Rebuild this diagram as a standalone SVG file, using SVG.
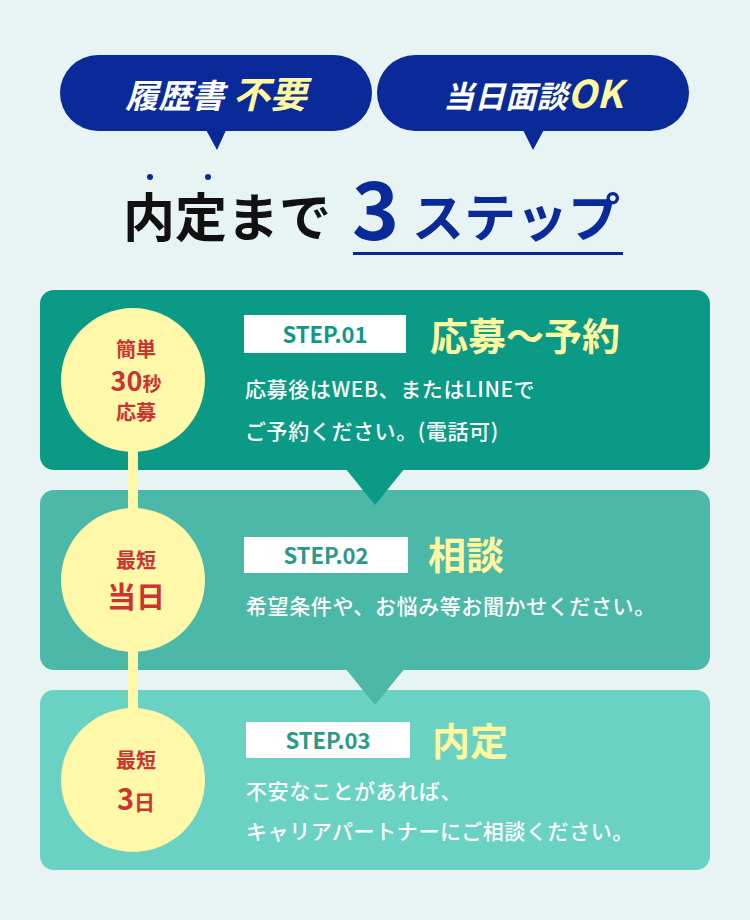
<svg xmlns="http://www.w3.org/2000/svg" width="750" height="920" viewBox="0 0 750 920">
<style>
text{font-family:"Noto Sans CJK JP","Noto Sans",sans-serif;font-weight:700}
.pill{fill:#0a2a9a}
.w{fill:#fff}
.y{fill:#fff8a0}
.circ{fill:#fff8a8}
.red{fill:#cc3333;text-anchor:middle}
.tag{fill:#fff}
.body{fill:#fff;font-weight:500;font-size:21px;letter-spacing:0.6px}
.ttl{fill:#fff8a0;font-size:38px}
</style>
<rect width="750" height="920" fill="#e8f3f3"/>
<g id="badge1">
<rect class="pill" x="60" y="55" width="312" height="76" rx="38"/>
<path class="pill" d="M205 128 L217 150 L227 128Z"/>
<text x="216" y="108" text-anchor="middle" font-size="33" font-style="italic"><tspan class="w">履歴書</tspan><tspan class="y" font-size="37"> 不要</tspan></text>
</g>
<g id="badge2">
<rect class="pill" x="377" y="55" width="312" height="76" rx="38"/>
<path class="pill" d="M522 128 L533 150 L545 128Z"/>
<text x="533" y="108" text-anchor="middle" font-size="31" font-style="italic"><tspan class="w">当日面談</tspan><tspan class="y" font-size="38">OK</tspan></text>
</g>
<g id="title">
<circle cx="150" cy="177" r="3" fill="#0a2a9a"/><circle cx="208" cy="177" r="3" fill="#0a2a9a"/>
<text x="123" y="237" font-size="52" fill="#111">内定まで</text>
<text x="352" y="240" font-size="80" fill="#0a2a9a" font-family="Roboto,sans-serif">3</text>
<text x="412" y="237" font-size="52" fill="#0a2a9a">ステップ</text>
<rect x="353" y="252" width="270" height="3" fill="#0a2a9a"/>
</g>
<g id="step3">
<rect x="40" y="690" width="670" height="180" rx="14" fill="#6ad2c3"/>
<rect class="tag" x="246" y="722" width="164" height="36"/>
<text x="328" y="749" text-anchor="middle" font-size="22" fill="#2a9a88" font-family="Noto Sans,sans-serif" font-weight="600">STEP.03</text>
<text class="ttl" x="432" y="755">内定</text>
<text class="body" x="246" y="799">不安なことがあれば、</text>
<text class="body" x="246" y="839">キャリアパートナーにご相談ください。</text>
</g>
<g id="step2">
<rect x="40" y="490" width="670" height="180" rx="14" fill="#4bb8a8"/>
<path d="M345 668 L375 705 L405 668Z" fill="#4bb8a8"/>
<rect class="tag" x="244" y="537" width="164" height="36"/>
<text x="326" y="564" text-anchor="middle" font-size="22" fill="#2a9a88" font-family="Noto Sans,sans-serif" font-weight="600">STEP.02</text>
<text class="ttl" x="428" y="569">相談</text>
<text class="body" x="246" y="614">希望条件や、お悩み等お聞かせください。</text>
</g>
<g id="step1">
<rect x="40" y="290" width="670" height="180" rx="14" fill="#0a9a85"/>
<path d="M345 468 L375 505 L405 468Z" fill="#0a9a85"/>
<rect class="tag" x="244" y="315" width="162" height="38"/>
<text x="325" y="343" text-anchor="middle" font-size="22" fill="#0a9a85" font-family="Noto Sans,sans-serif" font-weight="600">STEP.01</text>
<text class="ttl" x="430" y="350">応募～予約</text>
<text class="body" x="245" y="397">応募後はWEB、またはLINEで</text>
<text class="body" x="245" y="439">ご予約ください。(電話可)</text>
</g>
<g id="connectors">
<rect x="128" y="440" width="10" height="340" fill="#fff8a8"/>
</g>
<g id="circle1">
<circle class="circ" cx="133" cy="380" r="72"/>
<text class="red" x="136" y="357" font-size="20">簡単</text>
<text class="red" x="136" y="391" font-size="27">30<tspan font-size="19">秒</tspan></text>
<text class="red" x="136" y="420" font-size="20">応募</text>
</g>
<g id="circle2">
<circle class="circ" cx="133" cy="580" r="72"/>
<text class="red" x="136" y="568" font-size="20">最短</text>
<text class="red" x="136" y="608" font-size="29">当日</text>
</g>
<g id="circle3">
<circle class="circ" cx="133" cy="780" r="72"/>
<text class="red" x="136" y="768" font-size="20">最短</text>
<text class="red" x="136" y="810" font-size="29">3<tspan font-size="21">日</tspan></text>
</g>
</svg>
